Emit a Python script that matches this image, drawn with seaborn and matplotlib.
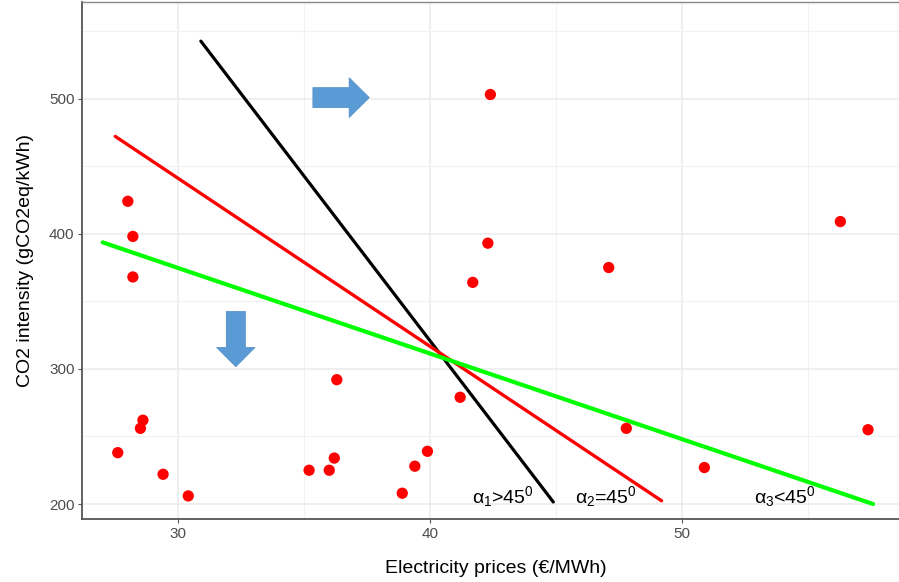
import numpy as np
import pandas as pd
import seaborn as sns
import matplotlib
matplotlib.use("Agg")
import matplotlib.pyplot as plt
from matplotlib.patches import FancyArrow
from matplotlib.ticker import MultipleLocator

# Country observations: electricity price vs. CO2 intensity
price = [27.6, 28.5, 28.6, 29.4, 30.4, 28.0, 28.2, 28.2,
         35.2, 36.0, 36.2, 36.3, 38.9, 39.4, 39.9, 41.2,
         42.4, 42.3, 41.7, 47.1, 56.3, 47.8, 50.9, 57.4]
co2 = [238, 256, 262, 222, 206, 424, 398, 368,
       225, 225, 234, 292, 208, 228, 239, 279,
       503, 393, 364, 375, 409, 256, 227, 255]

# Reference lines with different slopes
line_names = ["steep", "diagonal", "flat"]
line_x = [[30.9, 44.9], [27.5, 49.2], [27.0, 57.6]]
line_y = [[542.5, 201.5], [472.0, 202.4], [393.6, 200.0]]
line_colors = ["#000000", "#FF0000", "#00FF00"]
line_widths = [2.3, 2.4, 3.0]

slope_labels = [r"α$_1$>45$^0$", r"α$_2$=45$^0$", r"α$_3$<45$^0$"]
slope_label_x = [42.9, 47.0, 54.1]
slope_label_y = [200.5, 200.5, 200.5]

x_ticks = [30, 40, 50]
y_ticks = [200, 300, 400, 500]

sns.set_theme(style="white")
plt.rcParams["font.family"] = ["Liberation Sans", "DejaVu Sans"]
plt.rcParams["mathtext.default"] = "regular"

fig = plt.figure(figsize=(8.99, 5.82), dpi=100)
ax = fig.add_axes([0.0915, 0.1082, 0.9085, 0.8878])

ax.set_xlim(26.19, 58.63)
ax.set_ylim(188.9, 571.2)

ax.xaxis.set_major_locator(MultipleLocator(10))
ax.xaxis.set_minor_locator(MultipleLocator(5))
ax.yaxis.set_major_locator(MultipleLocator(100))
ax.yaxis.set_minor_locator(MultipleLocator(50))
ax.set_xticks(x_ticks)
ax.set_yticks(y_ticks)
ax.grid(which="major", color="#EBEBEB", linewidth=1.1)
ax.grid(which="minor", color="#F2F2F2", linewidth=0.8)
ax.set_axisbelow(True)

lines_df = pd.DataFrame({
    "x": sum(line_x, []),
    "y": sum(line_y, []),
    "line": [n for n in line_names for _ in range(2)],
})
for name, color, lw in zip(line_names, line_colors, line_widths):
    sub = lines_df[lines_df["line"] == name]
    sns.lineplot(data=sub, x="x", y="y", color=color, linewidth=lw,
                 ax=ax, sort=False, estimator=None, zorder=3)

pts = pd.DataFrame({"price": price, "co2": co2})
sns.scatterplot(data=pts, x="price", y="co2", color="#FF0000", s=66,
                edgecolor="none", ax=ax, zorder=4)

for lbl, lx, ly in zip(slope_labels, slope_label_x, slope_label_y):
    ax.text(lx, ly, lbl, ha="center", va="baseline", fontsize=14,
            color="black", zorder=5)

arrow_style = dict(facecolor="#5B9BD5", edgecolor="#4F8CC6", linewidth=0.5,
                   length_includes_head=True, zorder=5)
ax.add_patch(FancyArrow(35.35, 500.7, 2.24, 0, width=14.8, head_width=29.5,
                        head_length=0.80, **arrow_style))
ax.add_patch(FancyArrow(32.29, 342.5, 0, -40.9, width=0.76, head_width=1.53,
                        head_length=14.3, **arrow_style))

ax.set_xlabel("Electricity prices (€/MWh)", fontsize=14, color="black",
              labelpad=14)
ax.xaxis.label.set_x(0.506)
ax.set_ylabel("CO2 intensity (gCO2eq/kWh)", fontsize=14, color="black",
              labelpad=11)

ax.tick_params(axis="both", which="major", length=3, width=0.8,
               color="#555555", labelsize=11, labelcolor="#4D4D4D", pad=2.5,
               bottom=True, left=True)
ax.tick_params(axis="both", which="minor", length=0)

for side in ["left", "bottom"]:
    ax.spines[side].set_color("#555555")
    ax.spines[side].set_linewidth(1.3)
ax.spines["top"].set_color("#888888")
ax.spines["top"].set_linewidth(1.0)
ax.spines["right"].set_visible(False)

fig.savefig("out.png", dpi=100, facecolor="white")
